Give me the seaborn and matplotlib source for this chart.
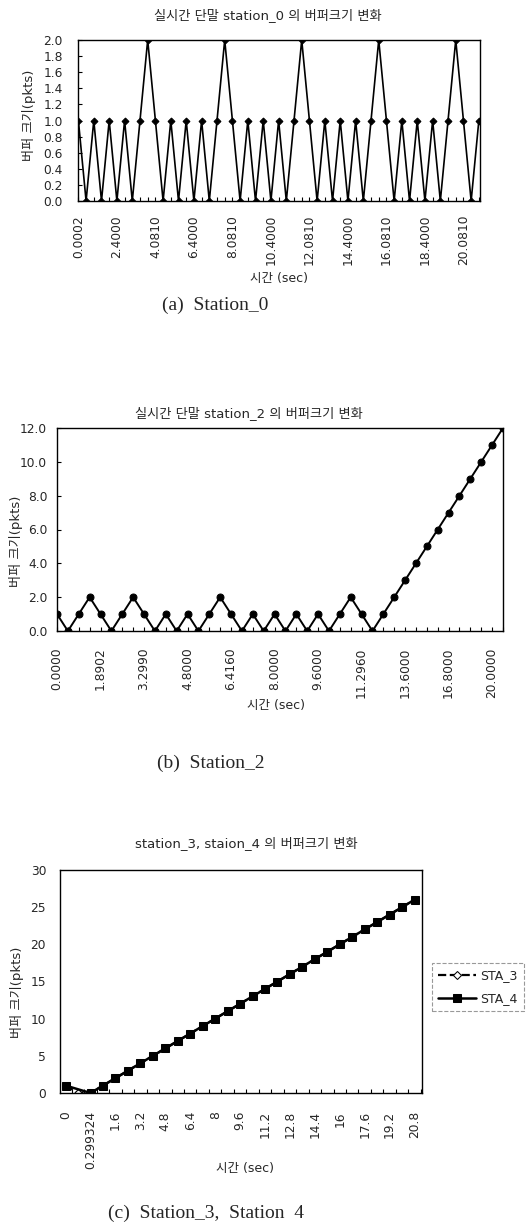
import numpy as np
import pandas as pd
import seaborn as sns
import matplotlib.pyplot as plt
from matplotlib.ticker import FixedLocator, FormatStrFormatter

# ---- data ----
sta0_buf = [1, 0, 1, 0, 1, 0, 1, 0, 1, 2,
            1, 0, 1, 0, 1, 0, 1, 0, 1, 2,
            1, 0, 1, 0, 1, 0, 1, 0, 1, 2,
            1, 0, 1, 0, 1, 0, 1, 0, 1, 2,
            1, 0, 1, 0, 1, 0, 1, 0, 1, 2,
            1, 0, 1]
sta0_ticks = ['0.0002', '2.4000', '4.0810', '6.4000', '8.0810', '10.4000',
              '12.0810', '14.4000', '16.0810', '18.4000', '20.0810']

sta2_buf = [1, 0, 1, 2, 1, 0, 1, 2, 1, 0,
            1, 0, 1, 0, 1, 2, 1, 0, 1, 0,
            1, 0, 1, 0, 1, 0, 1, 2, 1, 0,
            1, 2, 3, 4, 5, 6, 7, 8, 9, 10, 11, 12]
sta2_ticks = ['0.0000', '1.8902', '3.2990', '4.8000', '6.4160', '8.0000',
              '9.6000', '11.2960', '13.6000', '16.8000', '20.0000']

sta3_buf = [1, 0, 0, 1, 2, 3, 4, 5, 6, 7, 8, 9, 10, 11, 12, 13, 14, 15,
            16, 17, 18, 19, 20, 21, 22, 23, 24, 25, 26]
sta4_buf = [1, np.nan, 0, 1, 2, 3, 4, 5, 6, 7, 8, 9, 10, 11, 12, 13, 14, 15,
            16, 17, 18, 19, 20, 21, 22, 23, 24, 25, 26]
sta34_ticks = ['0', '0.299324', '1.6', '3.2', '4.8', '6.4', '8', '9.6', '11.2',
               '12.8', '14.4', '16', '17.6', '19.2', '20.8']

titles = ['실시간 단말 station_0 의 버퍼크기 변화',
          '실시간 단말 station_2 의 버퍼크기 변화',
          'station_3, staion_4 의 버퍼크기 변화']
captions = ['(a)  Station_0', '(b)  Station_2', '(c)  Station_3,  Station  4']
ylab = '버퍼 크기(pkts)'
xlab = '시간 (sec)'

sns.set_theme(style='white')
plt.rcParams['font.family'] = ['DejaVu Sans', 'Noto Sans CJK KR']
plt.rcParams['axes.edgecolor'] = 'black'
plt.rcParams['axes.linewidth'] = 1.0

W, H = 531, 1222
fig = plt.figure(figsize=(W / 100, H / 100), dpi=100)


def px_axes(l, t, r, b):
    return fig.add_axes([l / W, 1 - b / H, (r - l) / W, (b - t) / H])


def ftext(x, y, s, **kw):
    fig.text(x / W, 1 - y / H, s, ha='center', va='center', **kw)


def style_axis(ax, n, step, labels, ypad, xpad, between=False):
    major = np.arange(0, n, step)[:len(labels)]
    ax.xaxis.set_major_locator(FixedLocator(major))
    ax.set_xticklabels(labels, rotation=90, fontsize=8.8)
    minor = np.arange(n) + (0.5 if between else 0.0)
    ax.xaxis.set_minor_locator(FixedLocator(minor))
    ax.tick_params(axis='x', which='both', direction='in', length=3,
                   width=0.8, color='black', bottom=True, pad=xpad)
    if between:
        ax.tick_params(axis='x', which='major', length=0)
    ax.tick_params(axis='y', direction='in', length=3, width=0.8,
                   color='black', left=True, pad=ypad, labelsize=8.8)
    for s in ax.spines.values():
        s.set_color('black')
        s.set_linewidth(1.0)
    ax.set_xlabel(xlab, fontsize=9)
    ax.set_ylabel(ylab, fontsize=9.5)


# ---- (a) station_0 ----
ax1 = px_axes(78, 40, 480, 201)
df0 = pd.DataFrame({'idx': np.arange(len(sta0_buf)), 'buf': sta0_buf})
sns.lineplot(data=df0, x='idx', y='buf', ax=ax1, color='black', marker='D',
             markersize=3.5, markeredgecolor='black', linewidth=1.2)
ax1.set_xlim(-0.05, len(sta0_buf) - 0.85)
ax1.set_ylim(0, 2.0)
ax1.set_yticks(np.arange(0, 2.01, 0.2))
ax1.yaxis.set_major_formatter(FormatStrFormatter('%.1f'))
style_axis(ax1, len(sta0_buf), 5, sta0_ticks, ypad=11, xpad=10)
ax1.xaxis.set_label_coords(0.5, -0.44)
ax1.yaxis.set_label_coords(-0.104, 0.53)
ftext(268, 15, titles[0], fontsize=9.5)
ftext(215, 305, captions[0], fontsize=14, family='Liberation Serif')

# ---- (b) station_2 ----
ax2 = px_axes(57, 428, 503, 631)
df2 = pd.DataFrame({'idx': np.arange(len(sta2_buf)), 'buf': sta2_buf})
sns.lineplot(data=df2, x='idx', y='buf', ax=ax2, color='black', marker='o',
             markersize=5, markeredgecolor='black', linewidth=1.4)
ax2.set_xlim(0, len(sta2_buf) - 1)
ax2.set_ylim(0, 12.0)
ax2.set_yticks(np.arange(0, 12.01, 2.0))
ax2.yaxis.set_major_formatter(FormatStrFormatter('%.1f'))
style_axis(ax2, len(sta2_buf), 4, sta2_ticks, ypad=7, xpad=12)
ax2.xaxis.set_label_coords(0.49, -0.335)
ax2.yaxis.set_label_coords(-0.076, 0.443)
ftext(249, 413, titles[1], fontsize=9.5)
ftext(211, 763, captions[1], fontsize=14, family='Liberation Serif')

# ---- (c) station_3 / station_4 ----
ax3 = px_axes(60, 870, 422, 1093)
df3 = pd.DataFrame({'idx': np.arange(len(sta3_buf)), 'buf': sta3_buf})
df4 = pd.DataFrame({'idx': np.arange(len(sta4_buf)), 'buf': sta4_buf})
sns.lineplot(data=df3, x='idx', y='buf', ax=ax3, color='black', marker='D',
             markersize=4, markerfacecolor='white', markeredgecolor='black',
             linewidth=1.6, linestyle='--', label='STA_3')
sns.lineplot(data=df4, x='idx', y='buf', ax=ax3, color='black', marker='s',
             markersize=5.5, markeredgecolor='black', linewidth=1.8,
             label='STA_4')
ax3.set_xlim(-0.45, len(sta3_buf) - 0.4)
ax3.set_ylim(0, 30)
ax3.set_yticks(np.arange(0, 31, 5))
style_axis(ax3, len(sta3_buf), 2, sta34_ticks, ypad=10, xpad=13, between=True)
ax3.tick_params(axis='y', length=0)
ax3.xaxis.set_label_coords(0.511, -0.309)
ax3.yaxis.set_label_coords(-0.099, 0.453)
leg = ax3.legend(loc='center left', bbox_to_anchor=(1.01, 0.475), fontsize=9,
                 frameon=True, fancybox=False, handlelength=3.0,
                 borderpad=0.5, labelspacing=0.8, handletextpad=0.4)
leg.get_frame().set_edgecolor('gray')
leg.get_frame().set_linestyle('--')
leg.get_frame().set_linewidth(0.8)
ftext(246, 843, titles[2], fontsize=9.5)
ftext(206, 1213, captions[2], fontsize=14, family='Liberation Serif')

fig.savefig('out.png', dpi=100, facecolor='white')
